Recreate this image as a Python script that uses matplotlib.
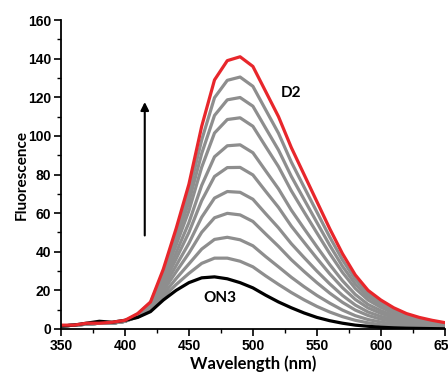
import matplotlib
matplotlib.use('Agg')
import matplotlib.pyplot as plt
from matplotlib.ticker import MultipleLocator

wavelength = list(range(350, 651, 10))

on3 = [1.5, 2, 3, 4, 3.5, 4.5, 6, 9, 15, 20, 24, 26.5, 27, 26, 24, 21.3, 17.5, 14, 11, 8.3,
       6, 4.3, 3, 2, 1.4, 0.9, 0.6, 0.4, 0.3, 0.2, 0.1]

d2 = [2, 2, 3, 3, 3.5, 4.5, 8, 14, 31, 52, 75, 105, 129, 139, 141, 136, 123, 110, 94, 80,
      66, 52, 39, 28, 20, 15, 11, 8, 6, 4.5, 3.3]

# intermediate titration spectra (top to bottom)
titration = [
    [1.5, 2, 2.5, 3, 3, 4, 7.8, 13.6, 29.6, 49.1, 70.4, 97.9, 119.8, 128.8, 130.5, 125.7, 113.5,
     101.4, 86.5, 73.5, 60.6, 47.7, 35.8, 25.7, 18.3, 13.7, 10.1, 7.3, 5.5, 4.1, 3.0],
    [1.5, 2, 2.5, 3, 3, 4, 7.6, 13.1, 28.1, 46.2, 65.8, 90.9, 110.6, 118.7, 119.9, 115.4, 104.0,
     92.7, 79.1, 67.1, 55.2, 43.4, 32.5, 23.3, 16.7, 12.5, 9.1, 6.6, 5.0, 3.7, 2.7],
    [1.5, 2, 2.5, 3, 3, 4, 7.5, 12.7, 26.7, 43.4, 61.2, 83.8, 101.5, 108.5, 109.4, 105.0, 94.5,
     84.1, 71.6, 60.6, 49.8, 39.1, 29.3, 21.0, 15.0, 11.2, 8.2, 6.0, 4.5, 3.3, 2.4],
    [1.5, 2, 2.5, 3, 3, 4, 7.2, 12.1, 24.8, 39.5, 55.1, 74.4, 89.2, 94.9, 95.4, 91.3, 81.9,
     72.6, 61.6, 52.0, 42.6, 33.4, 25.0, 17.9, 12.7, 9.5, 6.9, 5.0, 3.8, 2.8, 2.1],
    [1.5, 2, 2.5, 3, 3, 4, 7.0, 11.6, 23.2, 36.3, 50.0, 66.5, 79.0, 83.6, 83.7, 79.8, 71.3,
     63.0, 53.3, 44.9, 36.6, 28.6, 21.4, 15.3, 10.9, 8.1, 5.9, 4.3, 3.2, 2.4, 1.7],
    [1.5, 2, 2.5, 3, 3, 4, 6.8, 11.0, 21.4, 32.8, 44.4, 57.9, 67.8, 71.2, 70.8, 67.2, 59.7,
     52.4, 44.2, 37.0, 30.0, 23.4, 17.4, 12.4, 8.8, 6.5, 4.8, 3.4, 2.6, 1.9, 1.4],
    [1.5, 2, 2.5, 3, 3, 4, 6.6, 10.5, 19.8, 29.6, 39.3, 50.1, 57.6, 59.9, 59.1, 55.7, 49.2,
     42.8, 35.9, 29.8, 24.0, 18.6, 13.8, 9.8, 7.0, 5.1, 3.7, 2.7, 2.0, 1.5, 1.1],
    [1.5, 2, 2.5, 3, 3, 4, 6.4, 10.0, 18.0, 26.1, 33.7, 41.4, 46.4, 47.5, 46.2, 43.1, 37.5,
     32.2, 26.8, 21.9, 17.4, 13.4, 9.8, 6.9, 4.9, 3.6, 2.6, 1.8, 1.4, 1.0, 0.7],
    [1.5, 2, 2.5, 3, 3, 4, 6.2, 9.5, 16.5, 23.0, 28.8, 34.0, 36.7, 36.7, 35.1, 32.2, 27.5,
     23.1, 18.9, 15.1, 11.7, 8.8, 6.4, 4.5, 3.2, 2.2, 1.6, 1.1, 0.8, 0.6, 0.4],
]

fig = plt.figure(figsize=(4.48, 3.72), dpi=100)
ax = fig.add_axes([0.136, 0.1156, 0.857, 0.8304])

for spec in titration:
    ax.plot(wavelength, spec, color='#8e8e8e', lw=2.3)
ax.plot(wavelength, on3, color='black', lw=2.3)
ax.plot(wavelength, d2, color='#e8262b', lw=2.3)

ax.set_xlim(350, 650)
ax.set_ylim(0, 160)
ax.xaxis.set_major_locator(MultipleLocator(50))
ax.xaxis.set_minor_locator(MultipleLocator(25))
ax.yaxis.set_major_locator(MultipleLocator(20))
ax.yaxis.set_minor_locator(MultipleLocator(10))

for side in ['top', 'right']:
    ax.spines[side].set_visible(False)
for side in ['left', 'bottom']:
    ax.spines[side].set_linewidth(1.3)

ax.tick_params(which='major', direction='out', length=5, width=1.2, pad=2)
ax.tick_params(which='minor', direction='out', length=3, width=1.0)
for lab in ax.get_xticklabels() + ax.get_yticklabels():
    lab.set_fontfamily('Liberation Sans')
    lab.set_fontweight('bold')
    lab.set_fontsize(10)

ax.set_xlabel('Wavelength (nm)', fontfamily='Lato', fontweight='bold', fontsize=12, labelpad=2)
ax.set_ylabel('Fluorescence', fontfamily='Lato', fontweight='bold', fontsize=11, labelpad=-0.5)

ax.text(530, 122, 'D2', fontfamily='Lato', fontweight='bold', fontsize=11,
        ha='center', va='center')
ax.text(474, 16, 'ON3', fontfamily='Lato', fontweight='bold', fontsize=11,
        ha='center', va='center')
ax.annotate('', xy=(415.5, 119), xytext=(415.5, 47),
            arrowprops=dict(arrowstyle='-|>', color='black', lw=1.5, mutation_scale=12))

fig.savefig('out.png', dpi=100)
